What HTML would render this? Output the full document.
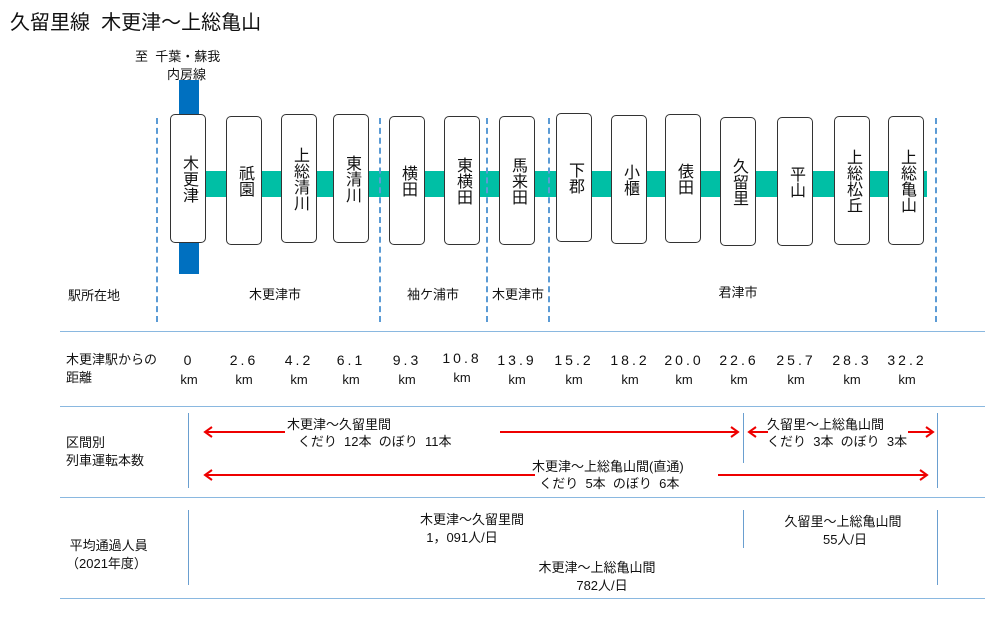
<!DOCTYPE html>
<html><head><meta charset="utf-8"><style>
body{margin:0;width:998px;height:619px;background:#fff;position:relative;overflow:hidden;font-family:"Liberation Sans","Noto Sans CJK JP",sans-serif;color:#111}
.a{position:absolute;white-space:nowrap}
.st{position:absolute;width:36px;height:129px;border:1.5px solid #333;border-radius:5px;background:#fff;display:flex;align-items:center;justify-content:center;box-sizing:border-box}
.st span{writing-mode:vertical-rl;font-size:16px;line-height:16px}
.dl{position:absolute;top:118px;height:204px;border-left:2px dashed #5b9bd5}
.hl{position:absolute;left:60px;width:925px;height:0;border-top:1.5px solid #8ab8e0}
.vl{position:absolute;width:0;border-left:1px solid #6a9fd0}
.c{position:absolute;font-size:13px;text-align:center;transform:translateX(-50%);white-space:nowrap;line-height:17px}
.d{letter-spacing:3px;font-size:14px}
</style></head><body>
<div class="a" style="left:10px;top:6px;font-size:20px">久留里線&nbsp;&nbsp;木更津～上総亀山</div>
<div class="a" style="left:135px;top:46px;font-size:13px">至&nbsp;&nbsp;千葉・蘇我</div>
<div class="a" style="left:167px;top:64px;font-size:13px">内房線</div>
<div style="position:absolute;left:179px;top:80px;width:20px;height:194px;background:#0070c0"></div>
<div style="position:absolute;left:200px;top:171px;width:727px;height:26px;background:#00bfa5"></div>
<div class="dl" style="left:156px"></div><div class="dl" style="left:379px"></div><div class="dl" style="left:486px"></div><div class="dl" style="left:548px"></div><div class="dl" style="left:935px"></div>
<div class="st" style="left:170px;top:114px"><span>木更津</span></div>
<div class="st" style="left:226px;top:116px"><span>祇園</span></div>
<div class="st" style="left:281px;top:114px"><span>上総清川</span></div>
<div class="st" style="left:333px;top:114px"><span>東清川</span></div>
<div class="st" style="left:389px;top:116px"><span>横田</span></div>
<div class="st" style="left:444px;top:116px"><span>東横田</span></div>
<div class="st" style="left:499px;top:116px"><span>馬来田</span></div>
<div class="st" style="left:556px;top:113px"><span>下郡</span></div>
<div class="st" style="left:611px;top:115px"><span>小櫃</span></div>
<div class="st" style="left:665px;top:114px"><span>俵田</span></div>
<div class="st" style="left:720px;top:117px"><span>久留里</span></div>
<div class="st" style="left:777px;top:117px"><span>平山</span></div>
<div class="st" style="left:834px;top:116px"><span>上総松丘</span></div>
<div class="st" style="left:888px;top:116px"><span>上総亀山</span></div>
<div class="a" style="left:68px;top:285px;font-size:13px">駅所在地</div>
<div class="c" style="left:275px;top:286px">木更津市</div>
<div class="c" style="left:433px;top:286px">袖ケ浦市</div>
<div class="c" style="left:518px;top:286px">木更津市</div>
<div class="c" style="left:738px;top:284px">君津市</div>
<div class="hl" style="top:331px"></div><div class="hl" style="top:406px"></div><div class="hl" style="top:497px"></div><div class="hl" style="top:598px"></div>
<div class="a" style="left:66px;top:351px;font-size:13px;line-height:18px">木更津駅からの<br>距離</div>
<div class="c" style="left:189px;top:351px;line-height:19px"><span class="d">0</span><br>km</div>
<div class="c" style="left:244px;top:351px;line-height:19px"><span class="d">2.6</span><br>km</div>
<div class="c" style="left:299px;top:351px;line-height:19px"><span class="d">4.2</span><br>km</div>
<div class="c" style="left:351px;top:351px;line-height:19px"><span class="d">6.1</span><br>km</div>
<div class="c" style="left:407px;top:351px;line-height:19px"><span class="d">9.3</span><br>km</div>
<div class="c" style="left:462px;top:349px;line-height:19px"><span class="d">10.8</span><br>km</div>
<div class="c" style="left:517px;top:351px;line-height:19px"><span class="d">13.9</span><br>km</div>
<div class="c" style="left:574px;top:351px;line-height:19px"><span class="d">15.2</span><br>km</div>
<div class="c" style="left:630px;top:351px;line-height:19px"><span class="d">18.2</span><br>km</div>
<div class="c" style="left:684px;top:351px;line-height:19px"><span class="d">20.0</span><br>km</div>
<div class="c" style="left:739px;top:351px;line-height:19px"><span class="d">22.6</span><br>km</div>
<div class="c" style="left:796px;top:351px;line-height:19px"><span class="d">25.7</span><br>km</div>
<div class="c" style="left:852px;top:351px;line-height:19px"><span class="d">28.3</span><br>km</div>
<div class="c" style="left:907px;top:351px;line-height:19px"><span class="d">32.2</span><br>km</div>
<div class="vl" style="left:188px;top:413px;height:75px"></div>
<div class="vl" style="left:743px;top:413px;height:50px"></div>
<div class="vl" style="left:937px;top:413px;height:75px"></div>
<div class="vl" style="left:188px;top:510px;height:75px"></div>
<div class="vl" style="left:743px;top:510px;height:38px"></div>
<div class="vl" style="left:937px;top:510px;height:75px"></div>
<svg style="position:absolute;left:0;top:0" width="998" height="619">
<g stroke="#e00" stroke-width="2" fill="none">
<line x1="205" y1="432" x2="285" y2="432"/><polyline points="212,427 205,432 212,437"/>
<line x1="500" y1="432" x2="738" y2="432"/><polyline points="731,427 738,432 731,437"/>
<line x1="749" y1="432" x2="768" y2="432"/><polyline points="756,427 749,432 756,437"/>
<line x1="908" y1="432" x2="933" y2="432"/><polyline points="926,427 933,432 926,437"/>
<line x1="205" y1="475" x2="535" y2="475"/><polyline points="212,470 205,475 212,480"/>
<line x1="718" y1="475" x2="927" y2="475"/><polyline points="920,470 927,475 920,480"/>
</g></svg>
<div class="a" style="left:287px;top:416px;font-size:13px;line-height:17px">木更津～久留里間<br>&nbsp;&nbsp;&nbsp;くだり&nbsp;&nbsp;12本&nbsp;&nbsp;のぼり&nbsp;&nbsp;11本</div>
<div class="a" style="left:767px;top:416px;font-size:13px;line-height:17px">久留里～上総亀山間<br>くだり&nbsp;&nbsp;3本&nbsp;&nbsp;のぼり&nbsp;&nbsp;3本</div>
<div class="a" style="left:532px;top:458px;font-size:13px;line-height:17px">木更津～上総亀山間(直通)<br>&nbsp;&nbsp;くだり&nbsp;&nbsp;5本&nbsp;&nbsp;のぼり&nbsp;&nbsp;6本</div>
<div class="a" style="left:66px;top:434px;font-size:13px;line-height:18px">区間別<br>列車運転本数</div>
<div class="a" style="left:66px;top:537px;font-size:13px;line-height:18px">&nbsp;平均通過人員<br>（2021年度）</div>
<div class="c" style="left:472px;top:511px">木更津～久留里間</div>
<div class="c" style="left:462px;top:529px">1，091人/日</div>
<div class="c" style="left:843px;top:513px">久留里～上総亀山間</div>
<div class="c" style="left:845px;top:531px">55人/日</div>
<div class="c" style="left:597px;top:559px">木更津～上総亀山間</div>
<div class="c" style="left:602px;top:577px">782人/日</div>
</body></html>
